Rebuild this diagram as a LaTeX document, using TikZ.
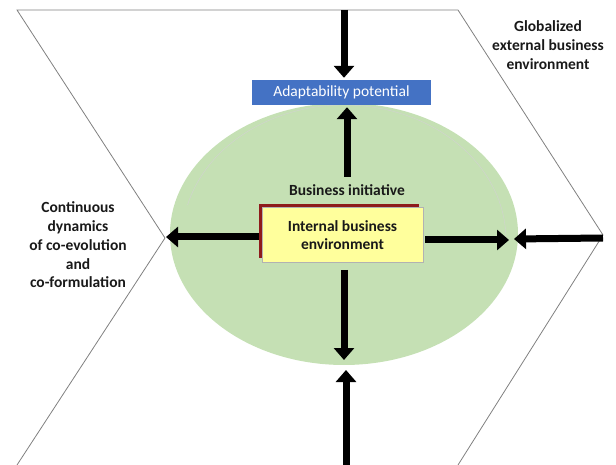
\documentclass[tikz,border=0pt]{standalone}
\usepackage{fontspec}
\setmainfont{Carlito}
\usetikzlibrary{arrows.meta}
\definecolor{ellgreen}{HTML}{C5E0B4}
\definecolor{boxblue}{HTML}{4472C4}
\definecolor{boxyellow}{HTML}{FFFF9C}
\definecolor{shadowred}{HTML}{8E1B1B}
\begin{document}
\begin{tikzpicture}[x=1pt,y=-1pt,
  fatarrow/.style={line width=7pt, black, -{Triangle[length=12pt,width=20pt]}},
  lbl/.style={font=\bfseries\fontsize{15.5}{18.7}\selectfont, align=center, text=black!90},
  chev/.style={draw=gray, line width=0.8pt}]
\useasboundingbox (0,0) rectangle (616,465);
% chevron outline
\draw[chev] (17,465) -- (165,238) -- (17,10) -- (458,10) -- (603,235) -- (458,465);
% green ellipse
\fill[ellgreen] (344,234) ellipse [x radius=174, y radius=131];
\draw[gray!35, line width=0.4pt] ([shift={(344,240)}]-165:162 and 135) arc[start angle=-165, end angle=0, x radius=162, y radius=135];
% boxes
\node[fill=boxblue, text=white, minimum width=179pt, minimum height=25pt, inner sep=0pt,
  font=\fontsize{15.5}{18}\selectfont] (adapt) at (341.5,92.5) {Adaptability potential};
\fill[shadowred] (259,204) rectangle (419,258);
\node[fill=boxyellow, draw=gray!60, line width=0.4pt, minimum width=161pt, minimum height=55pt,
  inner sep=0pt, lbl] (ibe) at (342.5,235) {Internal business\\environment};
\node[lbl] (bi) at (347,190) {Business initiative};
\node[lbl] (cd) at (78,245) {Continuous\\dynamics\\of co-evolution\\and\\co-formulation};
\node[lbl] (ge) at (548,45) {Globalized\\external business\\environment};
% arrow end points
\coordinate (ttop) at (344,10);
\coordinate (lp) at (166,237);
\coordinate (rp) at (509,240);
\coordinate (rtip) at (603,238);
\coordinate (rq) at (514,239);
\coordinate (dstart) at (344,270);
\coordinate (dn) at (344,360);
\coordinate (bstart) at (346,465);
\coordinate (bend) at (346,370);
% arrows
\draw[fatarrow, shorten >=2pt] (ttop) -- (ttop |- adapt.north);
\draw[fatarrow, shorten >=2pt] ([yshift=4pt]bi.north) -- (bi.north |- adapt.south);
\draw[fatarrow] ([xshift=-3pt]ibe.west |- lp) -- (lp);
\draw[fatarrow] ([xshift=2pt]ibe.east |- rp) -- (rp);
\draw[fatarrow] (rtip) -- (rq);
\draw[fatarrow] (dstart) -- (dn);
\draw[fatarrow] (bstart) -- (bend);
\end{tikzpicture}
\end{document}
